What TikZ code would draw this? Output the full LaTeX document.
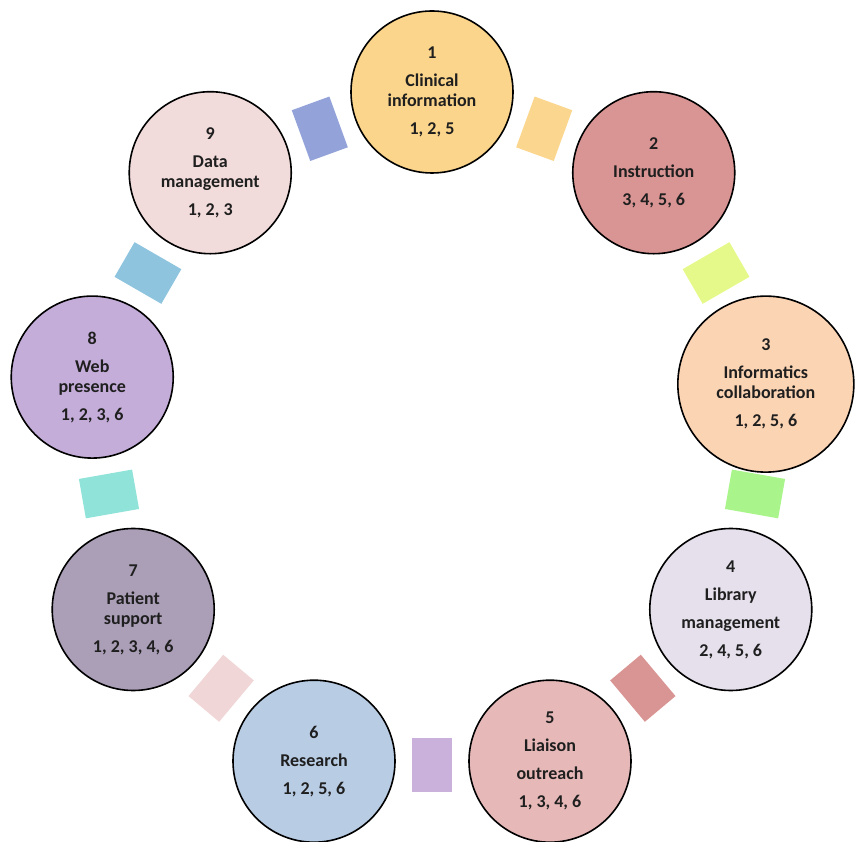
\documentclass[tikz,border=0pt]{standalone}
\usepackage{fontspec}
\setmainfont{Carlito}
\usetikzlibrary{positioning}

% circle fills
\definecolor{clinicalfill}{HTML}{FBD58B}
\definecolor{instructfill}{HTML}{D99594}
\definecolor{informfill}{HTML}{FBD4B4}
\definecolor{libraryfill}{HTML}{E5E0EC}
\definecolor{liaisonfill}{HTML}{E6B9B8}
\definecolor{researchfill}{HTML}{B8CCE4}
\definecolor{patientfill}{HTML}{AB9FB8}
\definecolor{webfill}{HTML}{C5ADDA}
\definecolor{datafill}{HTML}{F2DCDB}
% spacer fills
\definecolor{spacerA}{HTML}{FBD68E}
\definecolor{spacerB}{HTML}{E4F98A}
\definecolor{spacerC}{HTML}{AAF58B}
\definecolor{spacerD}{HTML}{D99594}
\definecolor{spacerE}{HTML}{C9B1DC}
\definecolor{spacerF}{HTML}{F0D6D6}
\definecolor{spacerG}{HTML}{90E3D9}
\definecolor{spacerH}{HTML}{8FC4DF}
\definecolor{spacerI}{HTML}{93A3D9}

\tikzset{
  topic/.style={circle, draw=black, line width=1.6pt, minimum size=162pt, inner sep=0pt,
    align=center, text=black!88, font=\bfseries\fontsize{18}{20}\selectfont},
  spacer/.style={rectangle, minimum width=54pt, minimum height=40pt, inner sep=0pt},
}

\begin{document}
\begin{tikzpicture}[x=1pt,y=1pt]
    \useasboundingbox (-432,-405) rectangle (429,437);
    % the nine service circles
    \node[topic, fill=clinicalfill] (clinical) at (90:345pt) {1\\[8pt]Clinical\\information\\[8pt]1, 2, 5};
    \node[topic, fill=instructfill] (instruct) at (50:345pt) {2\\[8pt]Instruction\\[8pt]3, 4, 5, 6};
    \node[topic, fill=informfill, minimum size=176pt] (inform) at (9:338pt) {3\\[8pt]Informatics\\collaboration\\[8pt]1, 2, 5, 6};
    \node[topic, fill=libraryfill] (library) at (-30:345pt) {4\\[8pt]Library\\[8pt]management\\[8pt]2, 4, 5, 6};
    \node[topic, fill=liaisonfill] (liaison) at (-70:345pt) {5\\[8pt]Liaison\\[8pt]outreach\\[8pt]1, 3, 4, 6};
    \node[topic, fill=researchfill] (research) at (-110:345pt) {6\\[8pt]Research\\[8pt]1, 2, 5, 6};
    \node[topic, fill=patientfill] (patient) at (-150:345pt) {7\\[8pt]Patient\\support\\[8pt]1, 2, 3, 4, 6};
    \node[topic, fill=webfill] (web) at (170:345pt) {8\\[8pt]Web\\presence\\[8pt]1, 2, 3, 6};
    \node[topic, fill=datafill] (data) at (130:345pt) {9\\[8pt]Data\\management\\[8pt]1, 2, 3};
    % spacers between the circles
    \node[spacer, fill=spacerA, rotate=70] (gapA) at (70:328pt) {};
    \node[spacer, fill=spacerB, rotate=30] (gapB) at (30:328pt) {};
    \node[spacer, fill=spacerC, rotate=-10] (gapC) at (-10:328pt) {};
    \node[spacer, fill=spacerD, rotate=-50] (gapD) at (-50:328pt) {};
    \node[spacer, fill=spacerE, rotate=-90] (gapE) at (-90:328pt) {};
    \node[spacer, fill=spacerF, rotate=-130] (gapF) at (-130:328pt) {};
    \node[spacer, fill=spacerG, rotate=-170] (gapG) at (-170:328pt) {};
    \node[spacer, fill=spacerH, rotate=150] (gapH) at (150:328pt) {};
    \node[spacer, fill=spacerI, rotate=110] (gapI) at (110:328pt) {};
\end{tikzpicture}
\end{document}
